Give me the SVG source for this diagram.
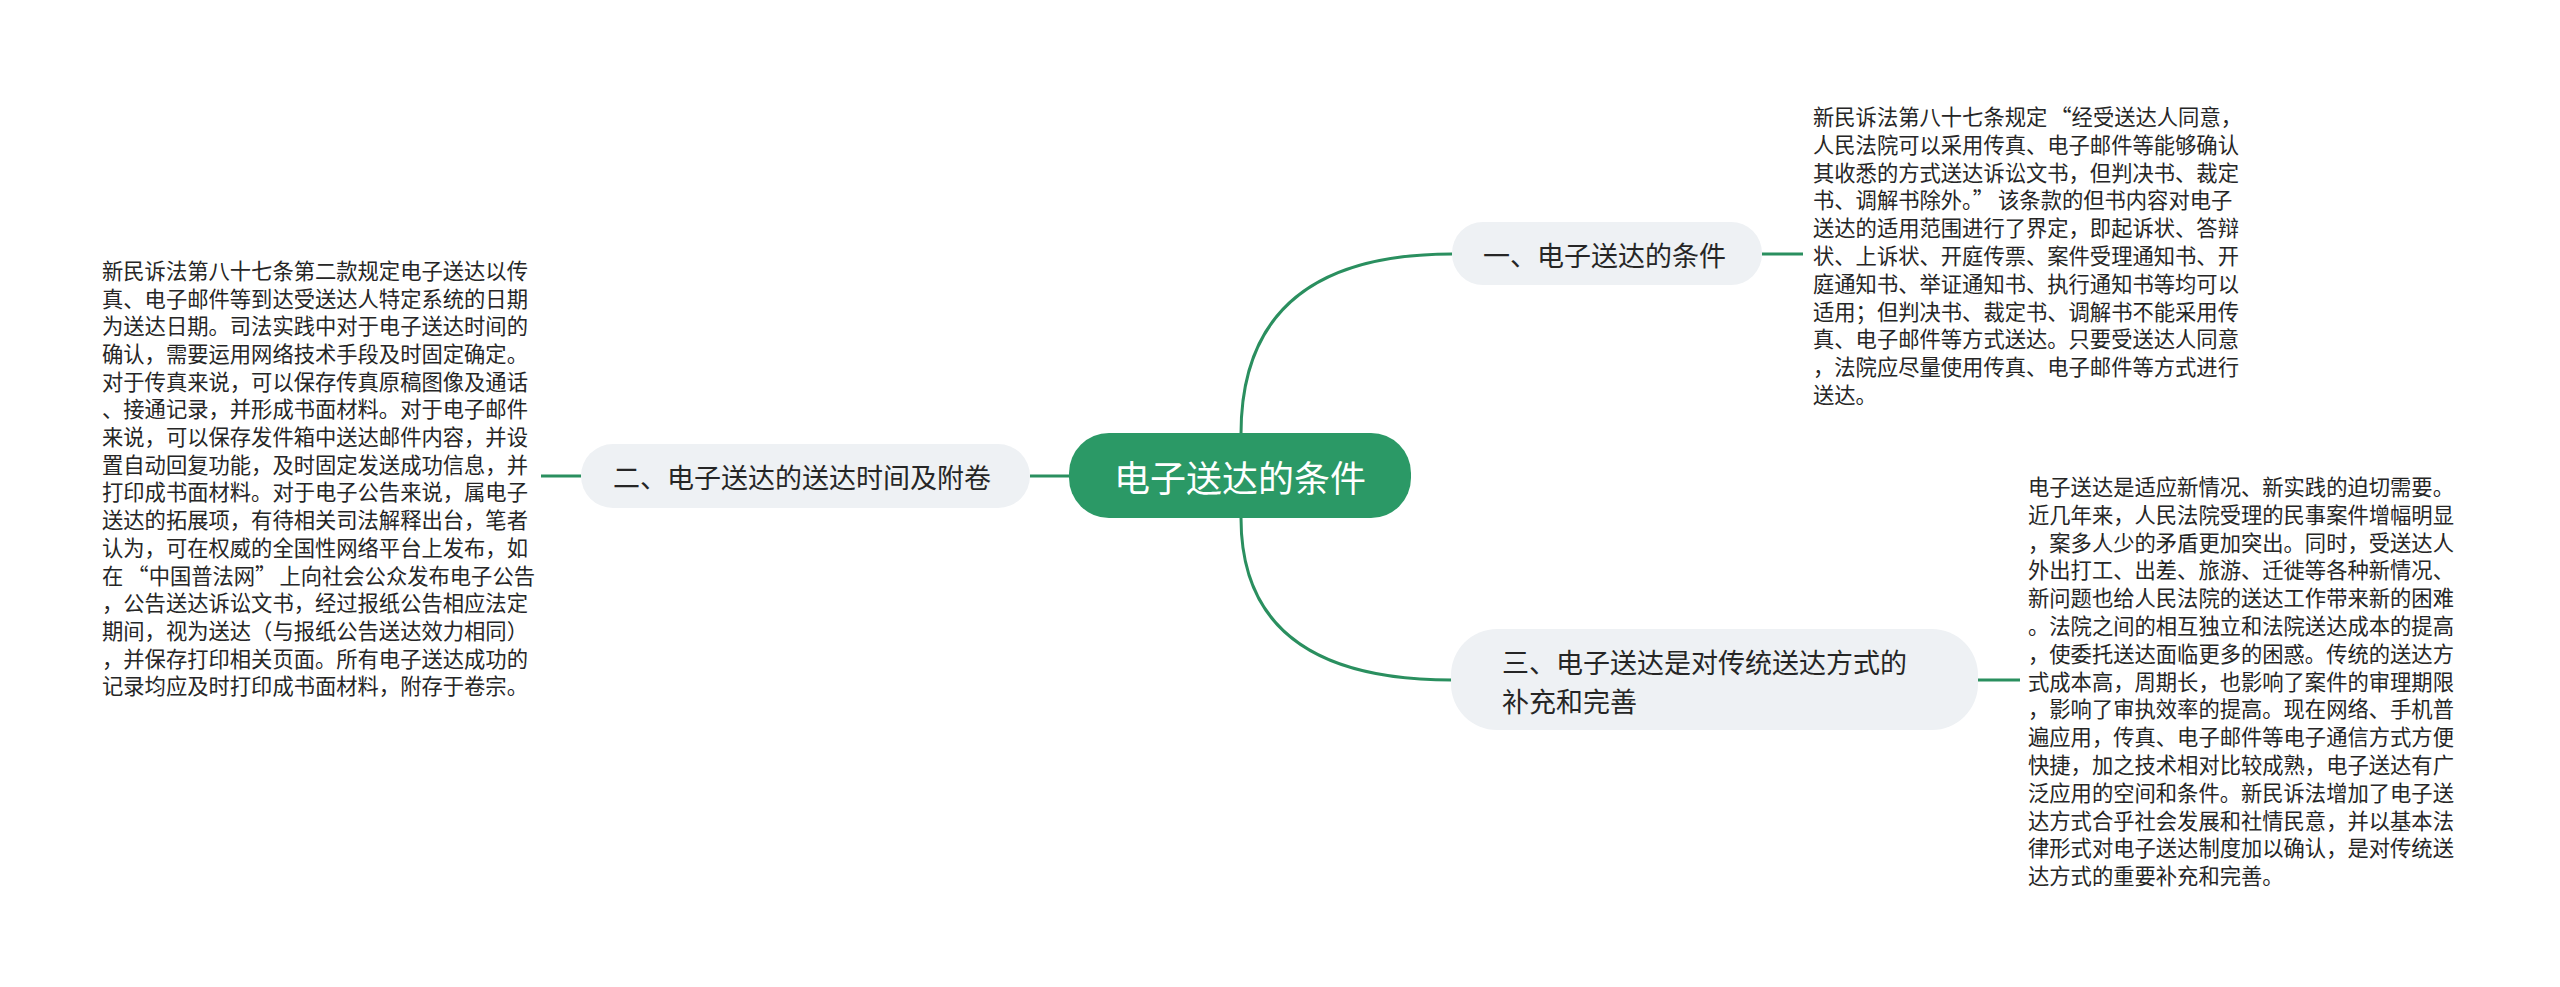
<svg xmlns="http://www.w3.org/2000/svg" width="2560" height="987" viewBox="0 0 2560 987">
<style>
.bg{fill:#ffffff}
.link{fill:none;stroke:#2a8f5f;stroke-width:3}
.root{fill:#2b9966}
.sub{fill:#eef1f4}
.rootText{font-family:"Noto Sans CJK SC","Microsoft YaHei",sans-serif;font-size:36px;fill:#ffffff;text-anchor:middle;dominant-baseline:central}
.subText{font-family:"Noto Sans CJK SC","Microsoft YaHei",sans-serif;font-size:27px;fill:#262626;dominant-baseline:central}
.body{font-family:"Noto Sans CJK SC","Microsoft YaHei",sans-serif;font-size:21.3px;fill:#262626;dominant-baseline:central}
</style>
<rect class="bg" x="0" y="0" width="2560" height="987"/>
<g id="connectors">
<path class="link" d="M1241 434 Q1241 254 1452 254"/>
<path class="link" d="M1241 518 Q1241 680 1452 680"/>
<path class="link" d="M1030 476 H1070"/>
<path class="link" d="M1762 254 H1803"/>
<path class="link" d="M541 476 H581"/>
<path class="link" d="M1978 680 H2020"/>
</g>
<g id="root">
<rect class="root" x="1069" y="433" width="342" height="85" rx="40"/>
<text class="rootText" x="1240" y="476">电子送达的条件</text>
</g>
<g id="node1">
<rect class="sub" x="1452" y="222" width="310" height="63" rx="31"/>
<text class="subText" x="1483" y="254">一、电子送达的条件</text>
</g>
<g id="node2">
<rect class="sub" x="581" y="444" width="449" height="64" rx="32"/>
<text class="subText" x="613" y="476">二、电子送达的送达时间及附卷</text>
</g>
<g id="node3">
<rect class="sub" x="1451" y="629" width="527" height="101" rx="46"/>
<text class="subText" x="1502" y="661">三、电子送达是对传统送达方式的</text>
<text class="subText" x="1502" y="700">补充和完善</text>
</g>
<g id="text1">
<text class="body" x="1813">
<tspan x="1813" y="115">新民诉法第八十七条规定<tspan dx="3">“</tspan>经受送达人同意，</tspan>
<tspan x="1813" y="142.8">人民法院可以采用传真、电子邮件等能够确认</tspan>
<tspan x="1813" y="170.6">其收悉的方式送达诉讼文书，但判决书、裁定</tspan>
<tspan x="1813" y="198.4">书、调解书除外。”<tspan dx="4">该条款的但书内容对电子</tspan></tspan>
<tspan x="1813" y="226.2">送达的适用范围进行了界定，即起诉状、答辩</tspan>
<tspan x="1813" y="254">状、上诉状、开庭传票、案件受理通知书、开</tspan>
<tspan x="1813" y="281.8">庭通知书、举证通知书、执行通知书等均可以</tspan>
<tspan x="1813" y="309.6">适用；但判决书、裁定书、调解书不能采用传</tspan>
<tspan x="1813" y="337.4">真、电子邮件等方式送达。只要受送达人同意</tspan>
<tspan x="1813" y="365.2">，法院应尽量使用传真、电子邮件等方式进行</tspan>
<tspan x="1813" y="393">送达。</tspan>
</text>
</g>
<g id="text2">
<text class="body" x="102">
<tspan x="102" y="268.8">新民诉法第八十七条第二款规定电子送达以传</tspan>
<tspan x="102" y="296.5">真、电子邮件等到达受送达人特定系统的日期</tspan>
<tspan x="102" y="324.2">为送达日期。司法实践中对于电子送达时间的</tspan>
<tspan x="102" y="351.9">确认，需要运用网络技术手段及时固定确定。</tspan>
<tspan x="102" y="379.6">对于传真来说，可以保存传真原稿图像及通话</tspan>
<tspan x="102" y="407.3">、接通记录，并形成书面材料。对于电子邮件</tspan>
<tspan x="102" y="435">来说，可以保存发件箱中送达邮件内容，并设</tspan>
<tspan x="102" y="462.7">置自动回复功能，及时固定发送成功信息，并</tspan>
<tspan x="102" y="490.4">打印成书面材料。对于电子公告来说，属电子</tspan>
<tspan x="102" y="518.1">送达的拓展项，有待相关司法解释出台，笔者</tspan>
<tspan x="102" y="545.8">认为，可在权威的全国性网络平台上发布，如</tspan>
<tspan x="102" y="573.5">在<tspan dx="4">“</tspan>中国普法网”<tspan dx="3">上向社会公众发布电子公告</tspan></tspan>
<tspan x="102" y="601.2">，公告送达诉讼文书，经过报纸公告相应法定</tspan>
<tspan x="102" y="628.9">期间，视为送达（与报纸公告送达效力相同）</tspan>
<tspan x="102" y="656.6">，并保存打印相关页面。所有电子送达成功的</tspan>
<tspan x="102" y="684.3">记录均应及时打印成书面材料，附存于卷宗。</tspan>
</text>
</g>
<g id="text3">
<text class="body" x="2028">
<tspan x="2028" y="485">电子送达是适应新情况、新实践的迫切需要。</tspan>
<tspan x="2028" y="512.8">近几年来，人民法院受理的民事案件增幅明显</tspan>
<tspan x="2028" y="540.6">，案多人少的矛盾更加突出。同时，受送达人</tspan>
<tspan x="2028" y="568.4">外出打工、出差、旅游、迁徙等各种新情况、</tspan>
<tspan x="2028" y="596.2">新问题也给人民法院的送达工作带来新的困难</tspan>
<tspan x="2028" y="624">。法院之间的相互独立和法院送达成本的提高</tspan>
<tspan x="2028" y="651.8">，使委托送达面临更多的困惑。传统的送达方</tspan>
<tspan x="2028" y="679.6">式成本高，周期长，也影响了案件的审理期限</tspan>
<tspan x="2028" y="707.4">，影响了审执效率的提高。现在网络、手机普</tspan>
<tspan x="2028" y="735.2">遍应用，传真、电子邮件等电子通信方式方便</tspan>
<tspan x="2028" y="763">快捷，加之技术相对比较成熟，电子送达有广</tspan>
<tspan x="2028" y="790.8">泛应用的空间和条件。新民诉法增加了电子送</tspan>
<tspan x="2028" y="818.6">达方式合乎社会发展和社情民意，并以基本法</tspan>
<tspan x="2028" y="846.4">律形式对电子送达制度加以确认，是对传统送</tspan>
<tspan x="2028" y="874.2">达方式的重要补充和完善。</tspan>
</text>
</g>
</svg>
